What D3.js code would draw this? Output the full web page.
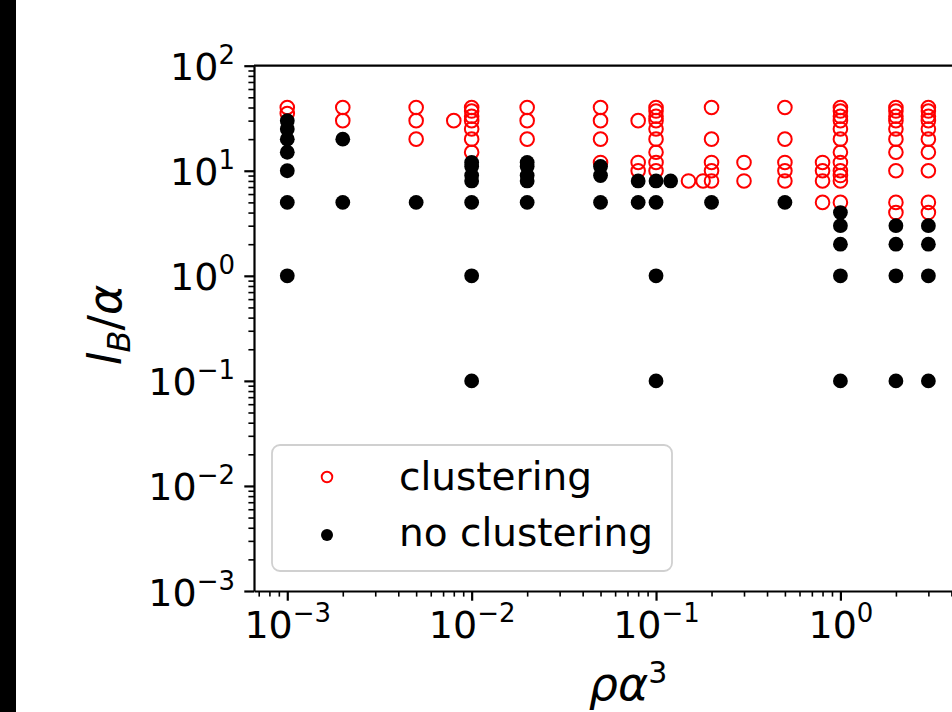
<!DOCTYPE html>
<html><head><meta charset="utf-8">
<script src="https://cdn.jsdelivr.net/npm/d3@7"></script>
<style>body{margin:0;background:#fff;overflow:hidden} svg{display:block}</style>
</head><body>
<script>
// ---- data ----
const clustering = [
  [1e-3,40],[1e-3,35],
  [2e-3,40],[2e-3,30],
  [5e-3,40],[5e-3,30],[5e-3,20],
  [8e-3,30],
  [1e-2,40],[1e-2,37],[1e-2,33],[1e-2,30],[1e-2,25],[1e-2,20],[1e-2,15],
  [2e-2,40],[2e-2,30],[2e-2,20],
  [5e-2,40],[5e-2,30],[5e-2,20],[5e-2,12],
  [8e-2,30],[8e-2,12],[8e-2,10],
  [0.1,40],[0.1,37],[0.1,33],[0.1,30],[0.1,25],[0.1,20],[0.1,15],[0.1,12],[0.1,10],
  [0.15,8],[0.18,8],
  [0.2,40],[0.2,20],[0.2,12],[0.2,10],[0.2,8],
  [0.3,12],[0.3,8],
  [0.5,40],[0.5,20],[0.5,12],[0.5,10],[0.5,8],
  [0.8,12],[0.8,10],[0.8,8],[0.8,5],
  [1,40],[1,37],[1,33],[1,30],[1,25],[1,20],[1,15],[1,12],[1,10],[1,9],[1,8],[1,5],
  [2,40],[2,37],[2,33],[2,30],[2,25],[2,20],[2,15],[2,10],[2,5],[2,4],
  [3,40],[3,37],[3,33],[3,30],[3,25],[3,20],[3,15],[3,10],[3,5],[3,4]
];
const noClustering = [
  [1e-3,30],[1e-3,25],[1e-3,20],[1e-3,15],[1e-3,10],[1e-3,5],[1e-3,1],
  [2e-3,20],[2e-3,5],
  [5e-3,5],
  [1e-2,12],[1e-2,11],[1e-2,9],[1e-2,8],[1e-2,5],[1e-2,1],[1e-2,0.1],
  [2e-2,12],[2e-2,11],[2e-2,9],[2e-2,8],[2e-2,5],
  [5e-2,11],[5e-2,9],[5e-2,5],
  [8e-2,8],[8e-2,5],
  [0.1,8],[0.1,5],[0.1,1],[0.1,0.1],
  [0.12,8],
  [0.2,5],
  [0.5,5],
  [1,4],[1,3],[1,2],[1,1],[1,0.1],
  [2,3],[2,2],[2,1],[2,0.1],
  [3,3],[3,2],[3,1],[3,0.1]
];
const xMajorExps = [-3, -2, -1, 0];
const yMajorExps = [-3, -2, -1, 0, 1, 2];
const legendLabels = ["clustering", "no clustering"];
const xDomain = [6.6e-4, 13.7];
const yDomain = [1e-3, 1e2];

// ---- layout ----
const W = 952, H = 712;
const plotL = 254, plotR = 1050, plotT = 65.7, plotB = 591;
const FS = 38, SUP = 26, LFS = 39, AFS = 46, ASUP = 30;
const FONT = "'DejaVu Sans', sans-serif";

const svg = d3.select("body").append("svg").attr("width", W).attr("height", H)
  .style("font-family", FONT);
svg.append("rect").attr("width", W).attr("height", H).attr("fill", "#fff");
svg.append("rect").attr("x", 0).attr("y", 0).attr("width", 16).attr("height", H).attr("fill", "#000");

const x = d3.scaleLog().domain(xDomain).range([plotL, plotR]);
const y = d3.scaleLog().domain(yDomain).range([plotB, plotT]);

function minors(scale) {
  const [a, b] = scale.domain();
  const out = [];
  for (let e = Math.floor(Math.log10(a)); e <= Math.ceil(Math.log10(b)); e++)
    for (let m = 2; m <= 9; m++) { const v = m * Math.pow(10, e); if (v >= a && v <= b) out.push(v); }
  return out;
}

// minor ticks
const gxm = svg.append("g").attr("transform", `translate(0,${plotB})`)
  .call(d3.axisBottom(x).tickValues(minors(x)).tickSize(5.6).tickSizeOuter(0).tickFormat(""));
const gym = svg.append("g").attr("transform", `translate(${plotL},0)`)
  .call(d3.axisLeft(y).tickValues(minors(y)).tickSize(5.6).tickSizeOuter(0).tickFormat(""));
[gxm, gym].forEach(g => { g.select(".domain").remove(); g.selectAll("line").attr("stroke", "#000").attr("stroke-width", 1.6); });

// major ticks
const gx = svg.append("g").attr("transform", `translate(0,${plotB})`)
  .call(d3.axisBottom(x).tickValues(xMajorExps.map(e => Math.pow(10, e))).tickSize(9.7).tickSizeOuter(0).tickFormat(""));
const gy = svg.append("g").attr("transform", `translate(${plotL},0)`)
  .call(d3.axisLeft(y).tickValues(yMajorExps.map(e => Math.pow(10, e))).tickSize(9.7).tickSizeOuter(0).tickFormat(""));
[gx, gy].forEach(g => {
  g.select(".domain").attr("stroke", "#000").attr("stroke-width", 2.2);
  g.selectAll("line").attr("stroke", "#000").attr("stroke-width", 2.2);
});
// top spine
svg.append("line").attr("x1", plotL).attr("x2", plotR).attr("y1", plotT).attr("y2", plotT)
  .attr("stroke", "#000").attr("stroke-width", 2.2);

function expLabel(sel, e) {
  sel.text(null);
  sel.append("tspan").text("10");
  sel.append("tspan").attr("dy", -16).attr("font-size", SUP).text(e < 0 ? "\u2212" + (-e) : String(e));
}
// x tick labels
gx.selectAll(".tick").each(function(d) {
  const e = Math.round(Math.log10(d));
  const t = d3.select(this).select("text");
  t.attr("y", 47).attr("dy", null).attr("font-size", FS).attr("font-family", FONT)
   .attr("fill", "#000").attr("text-anchor", "middle");
  expLabel(t, e);
});
// y tick labels
gy.selectAll(".tick").each(function(d) {
  const e = Math.round(Math.log10(d));
  const t = d3.select(this).select("text");
  t.attr("x", -19).attr("dy", null).attr("y", 14).attr("font-size", FS).attr("font-family", FONT)
   .attr("fill", "#000").attr("text-anchor", "end");
  expLabel(t, e);
});

// data
svg.append("g").selectAll("circle").data(clustering).join("circle")
  .attr("cx", d => x(d[0])).attr("cy", d => y(d[1])).attr("r", 6.8)
  .attr("fill", "none").attr("stroke", "#ff0000").attr("stroke-width", 2);
svg.append("g").selectAll("circle").data(noClustering).join("circle")
  .attr("cx", d => x(d[0])).attr("cy", d => y(d[1])).attr("r", 7.4)
  .attr("fill", "#000");

// legend
const lg = svg.append("g");
lg.append("rect").attr("x", 272).attr("y", 445).attr("width", 400).attr("height", 126)
  .attr("rx", 8).attr("fill", "#fff").attr("fill-opacity", 0.8)
  .attr("stroke", "#d0d0d0").attr("stroke-width", 1.8);
lg.append("circle").attr("cx", 327).attr("cy", 477).attr("r", 5.3)
  .attr("fill", "none").attr("stroke", "#ff0000").attr("stroke-width", 1.9);
lg.append("circle").attr("cx", 327).attr("cy", 535).attr("r", 6).attr("fill", "#000");
lg.selectAll("text").data(legendLabels).join("text")
  .attr("x", 399).attr("y", (d, i) => 490 + i * 56).attr("font-size", LFS).attr("fill", "#000").text(d => d);

// axis labels
const xl = svg.append("text").attr("x", 628).attr("y", 700).attr("text-anchor", "middle")
  .attr("font-size", AFS).attr("fill", "#000");
xl.append("tspan").attr("font-style", "italic").text("ρα");
xl.append("tspan").attr("dy", -17).attr("font-size", ASUP).text("3");

const yl = svg.append("text").attr("transform", "translate(121,325) rotate(-90)")
  .attr("text-anchor", "middle").attr("font-size", AFS).attr("fill", "#000");
yl.append("tspan").attr("font-style", "italic").text("l");
yl.append("tspan").attr("font-style", "italic").attr("font-size", ASUP + 2).attr("dy", 9).text("B");
yl.append("tspan").attr("dy", -9).text("/");
yl.append("tspan").attr("font-style", "italic").text("α");
</script>
</body></html>
